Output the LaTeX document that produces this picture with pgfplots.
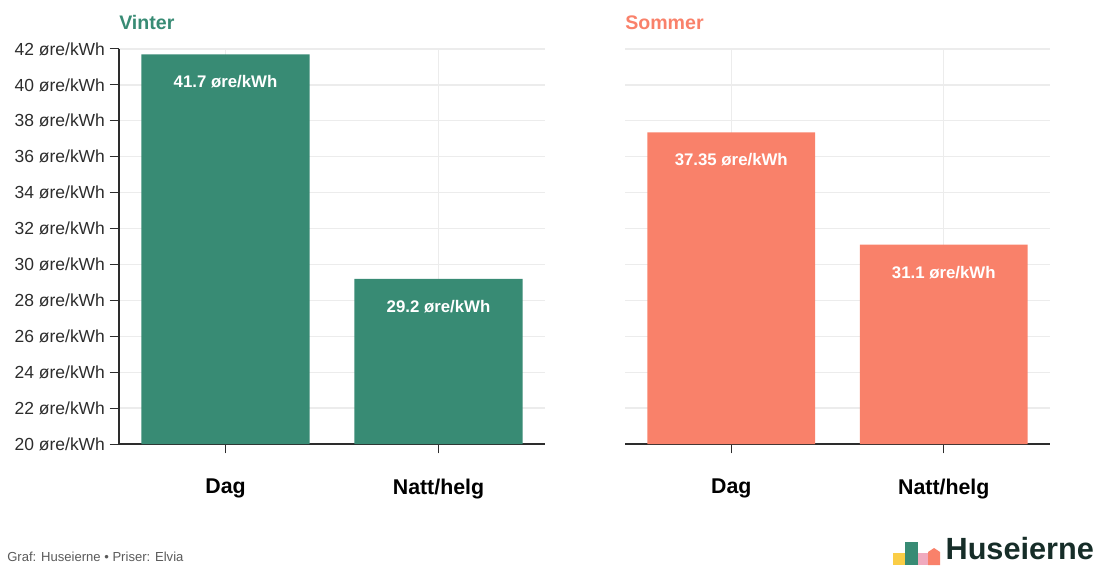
\documentclass[border=0pt]{standalone}
\usepackage{fontspec}
\setmainfont{Liberation Sans}
\usepackage{pgfplots}
\pgfplotsset{compat=1.18}
\definecolor{vgreen}{RGB}{56,139,116}
\definecolor{ssalmon}{RGB}{249,129,106}
\definecolor{gridc}{RGB}{236,236,236}
\definecolor{axc}{RGB}{45,45,45}
\definecolor{txtc}{RGB}{45,45,45}
\definecolor{footc}{RGB}{90,90,90}
\definecolor{logoc}{RGB}{22,45,40}
\definecolor{logoy}{RGB}{250,205,70}
\definecolor{logop}{RGB}{240,170,190}

\pgfplotsset{
  common/.style={
    scale only axis,
    anchor=south west,
    xmin=-0.5, xmax=1.5, ymin=20, ymax=42,
    ytick={20,22,...,42},
    xtick={0,1},
    xticklabels={Dag,Natt/helg},
    axis x line*=bottom, axis y line*=left,
    ymajorgrids, xmajorgrids,
    grid style={gridc, line width=0.9pt},
    axis line style={axc, line width=0.9pt},
    tick style={axc, line width=0.75pt},
    tick align=outside,
    major tick length=7pt,
    xticklabel style={font=\fontsize{16}{19}\selectfont\bfseries, text=black, yshift=-15.5pt},
    yticklabel style={font=\fontsize{13.1}{15}\selectfont, text=txtc},
    /pgf/number format/assume math mode=true,
    clip=true,
  },
  barlab/.style={
    ybar, bar width=0.79, draw=none,
    nodes near coords={\pgfmathprintnumber[assume math mode=true]{\pgfplotspointmeta}~øre/kWh},
    every node near coord/.append style={anchor=center, yshift=-20.7pt, text=white,
      font=\fontsize{12.6}{14}\selectfont\bfseries},
  },
}

\begin{document}
\begin{tikzpicture}
\useasboundingbox (0pt,0pt) rectangle (826.5pt,423.75pt);

\begin{axis}[common,
  at={(89.25pt,90.75pt)}, width=319.5pt, height=296.25pt,
  yticklabels={20 øre/kWh,22 øre/kWh,24 øre/kWh,26 øre/kWh,28 øre/kWh,30 øre/kWh,32 øre/kWh,34 øre/kWh,36 øre/kWh,38 øre/kWh,40 øre/kWh,42 øre/kWh},
]
\addplot[barlab, fill=vgreen] coordinates {(0,41.7) (1,29.2)};
\end{axis}

\begin{axis}[common,
  at={(468.75pt,90.75pt)}, width=318.75pt, height=296.25pt,
  yticklabels={},
  y axis line style={draw=none},
  ytick style={draw=none},
]
\addplot[barlab, fill=ssalmon] coordinates {(0,37.35) (1,31.1)};
\end{axis}

\node[anchor=base west, inner sep=0pt, text=vgreen, font=\fontsize{14.7}{17}\selectfont\bfseries] at (89.25pt,401.25pt) {Vinter};
\node[anchor=base west, inner sep=0pt, text=ssalmon, font=\fontsize{14.7}{17}\selectfont\bfseries] at (468.75pt,401.25pt) {Sommer};

\node[anchor=base west, inner sep=0pt, text=footc, font=\fontsize{9.8}{11}\selectfont] at (5.25pt,3pt) {Graf: Huseierne • Priser: Elvia};

% logo
\fill[logoy] (669.75pt,0pt) rectangle (679.5pt,9pt);
\fill[vgreen] (678.75pt,0pt) rectangle (688.5pt,17.25pt);
\fill[logop] (688.5pt,0pt) rectangle (697.5pt,9pt);
\fill[ssalmon] (696pt,0pt) -- (696pt,9.75pt) -- (700.5pt,12.75pt) -- (705pt,9.75pt) -- (705pt,0pt) -- cycle;
\node[anchor=base west, inner sep=0pt, text=logoc, font=\fontsize{23}{28}\selectfont\bfseries] at (709pt,4.5pt) {Huseierne};
\end{tikzpicture}
\end{document}
